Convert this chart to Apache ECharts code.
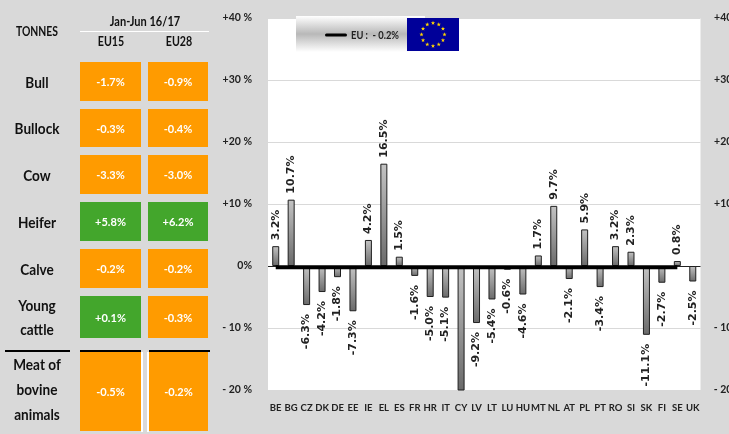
<!DOCTYPE html>
<html><head><meta charset="utf-8">
<style>html,body{margin:0;padding:0;background:#d9d9d9;overflow:hidden}#c{width:729px;height:434px}</style>
<script src="https://cdn.jsdelivr.net/npm/echarts@6/dist/echarts.min.js"></script>
</head><body><div id="c"></div>
<script>
const countries = ['BE','BG','CZ','DK','DE','EE','IE','EL','ES','FR','HR','IT','CY','LV','LT','LU','HU','MT','NL','AT','PL','PT','RO','SI','SK','FI','SE','UK'];
const changes = [3.2,10.7,-6.3,-4.2,-1.8,-7.3,4.2,16.5,1.5,-1.6,-5.0,-5.1,-26,-9.2,-5.4,-0.6,-4.6,1.7,9.7,-2.1,5.9,-3.4,3.2,2.3,-11.1,-2.7,0.8,-2.5];
const hiddenLabels = ['CY'];
const euAverage = -0.2;
const euLineEnd = 'SE';
const rows = ['Bull','Bullock','Cow','Heifer','Calve','Young\ncattle','Meat of\nbovine\nanimals'];
const eu15 = ['-1.7%','-0.3%','-3.3%','+5.8%','-0.2%','+0.1%','-0.5%'];
const eu28 = ['-0.9%','-0.4%','-3.0%','+6.2%','-0.2%','-0.3%','-0.2%'];

const FONT = 'Lato,"Liberation Sans",sans-serif';
const rowTops = [62,109,155,202,249,296,352];
const rowBottoms = [101,147,194,241,288,338,431];
const colX = [[80,141],[148,208]];
const g = [];
function text(x,y,t,size,fill,weight,align,lh,sx){
  g.push({type:'text',x,y,scaleX:sx||1,z:20,style:{text:t,fontFamily:FONT,fontSize:size,fontWeight:weight||'bold',fill:fill||'#111',align:align||'center',verticalAlign:'middle',lineHeight:lh}});
}
function rect(x,y,w,h,fill,z){g.push({type:'rect',shape:{x,y,width:w,height:h},z:z||10,style:{fill}});}
text(37,32,'TONNES',13,'#111','bold','center',undefined,0.8);
text(145,22,'Jan-Jun 16/17',13,'#111','bold','center',undefined,0.85);
rect(80,31,129,1,'#fff');
text(111,42,'EU15',13,'#111','bold','center',undefined,0.82);
text(179,42,'EU28',13,'#111','bold','center',undefined,0.82);
rows.forEach((r,i)=>{
  const t=rowTops[i],b=rowBottoms[i],mid=(t+b)/2;
  text(37,mid+(i===6?-2:1),r,16,'#111','bold','center',i===6?25:24,0.85);
  [eu15[i],eu28[i]].forEach((v,c)=>{
    let x0=colX[c][0],x1=colX[c][1];
    if(i===6&&c===1)x0=149;
    rect(x0,t,x1-x0,b-t,v[0]==='+'?'#43a62c':'#ff9b00');
    text((x0+x1)/2,mid+1,v,12,'#fff','bold','center',undefined,0.92);
  });
});
rect(5,350,65,2,'#000');rect(80,350,61,2,'#000');rect(149,350,61,2,'#000');
rect(141,352,2,80,'#fff');rect(147,352,2,80,'#fff');
// legend box
g.push({type:'rect',shape:{x:296,y:16,width:129,height:36},z:10,style:{fill:new echarts.graphic.LinearGradient(0,0,0,1,[{offset:0,color:'#fff'},{offset:.5,color:'#b8b8b8'},{offset:1,color:'#fff'}])}});
g.push({type:'rect',shape:{x:325,y:33.5,width:22,height:3,r:1.5},z:11,style:{fill:'#000'}});
text(351,35,'EU :  - 0.2%',11,'#222','bold','left',undefined,0.85);
rect(407,18,52,33,'#000099',11);
for(let k=0;k<12;k++){
  const a=k*Math.PI/6,cx=433+Math.sin(a)*11.5,cy=34.5-Math.cos(a)*11.5,pts=[];
  for(let j=0;j<10;j++){const r=j%2?0.9:2.2,b=j*Math.PI/5;pts.push([cx+Math.sin(b)*r,cy-Math.cos(b)*r]);}
  g.push({type:'polygon',shape:{points:pts},z:12,style:{fill:'#ffd500'}});
}

const barData = changes.map((v,i)=>({
  value:v,
  label: hiddenLabels.includes(countries[i]) ? {show:false} :
    (v>=0 ? {position:'top',distance:6,rotate:90,align:'left',verticalAlign:'middle'}
          : {position:'bottom',distance:9,rotate:90,align:'right',verticalAlign:'middle'})
}));
const endIdx = countries.indexOf(euLineEnd);
const lineData = countries.map((c,i)=> i<=endIdx ? euAverage : null);
const fmt = v => v===0 ? '0%' : (v>0?'+':'- ')+Math.abs(v)+' %';
const axisLab = {fontFamily:FONT,fontSize:10.5,fontWeight:'bold',color:'#222',formatter:fmt};
const split = ['#d9d9d9','#d9d9d9','#222','#d9d9d9','#d9d9d9','#d9d9d9','#d9d9d9'];
const chart = echarts.init(document.getElementById('c'));
chart.setOption({
  animation:false,
  backgroundColor:'#d9d9d9',
  graphic:g,
  grid:{left:268,right:28.5,top:18,bottom:44,backgroundColor:'#fff',show:true,borderWidth:0,outerBoundsMode:'none'},
  xAxis:{type:'category',data:countries,axisLine:{show:false,onZero:false},axisTick:{show:false},
    axisLabel:{interval:0,margin:13,fontFamily:FONT,fontSize:9.5,fontWeight:'bold',color:'#222',hideOverlap:false}},
  yAxis:[
    {type:'value',min:-20,max:40,interval:10,position:'left',axisLine:{show:false},axisTick:{show:false},
     axisLabel:{...axisLab,margin:16},splitLine:{show:true,lineStyle:{color:split,width:1}}},
    {type:'value',min:-20,max:40,interval:10,position:'right',axisLine:{show:false},axisTick:{show:false},
     axisLabel:{...axisLab,margin:43,align:'right'},splitLine:{show:false}}
  ],
  series:[
    {type:'bar',data:barData,barWidth:7,clip:true,
     itemStyle:{borderColor:'#1f1f1f',borderWidth:1,
       color:new echarts.graphic.LinearGradient(0,0,0,1,[{offset:0,color:'#c4c4c4'},{offset:1,color:'#6a6a6a'}])},
     label:{show:true,formatter:p=>p.value.toFixed(1)+'%',fontFamily:'"DejaVu Sans",sans-serif',fontSize:11,fontWeight:'bold',color:'#222'}},
    {type:'line',data:lineData,symbol:'none',z:5,lineStyle:{color:'#000',width:4,cap:'butt'},connectNulls:false}
  ]
});
</script></body></html>
